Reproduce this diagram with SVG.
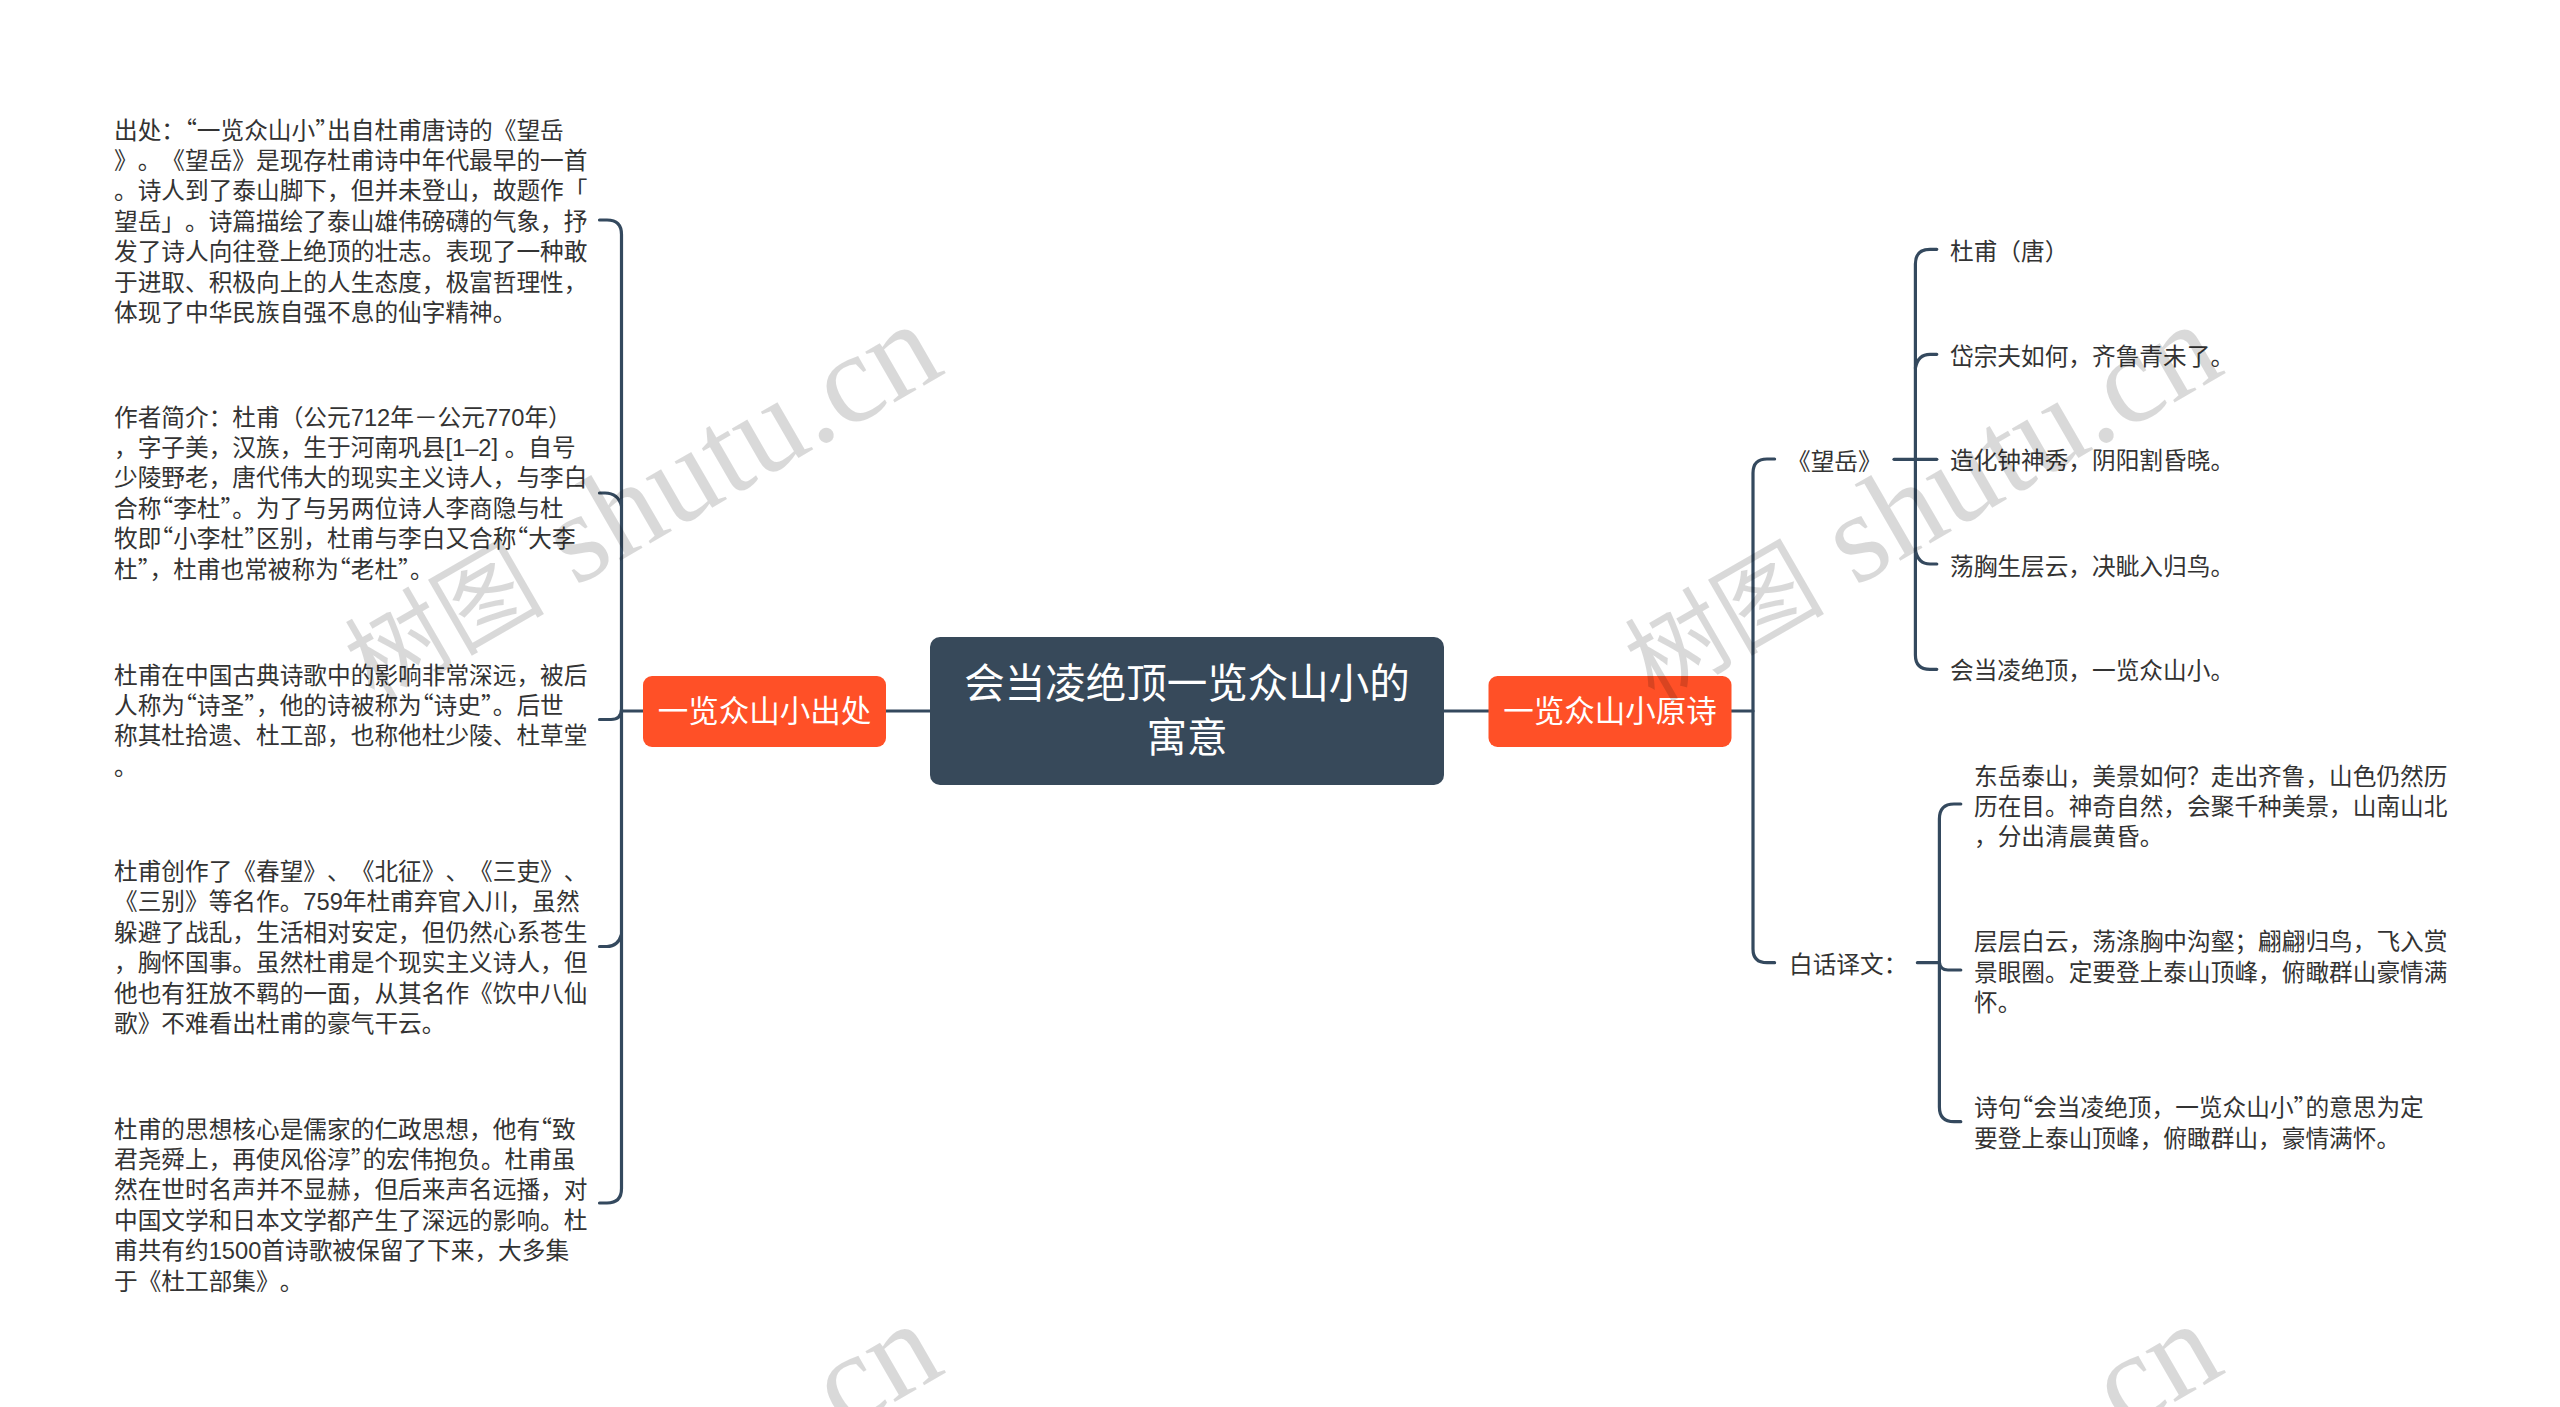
<svg xmlns="http://www.w3.org/2000/svg" width="2560" height="1407" viewBox="0 0 2560 1407">
<style>
text{font-family:"Liberation Sans","Noto Sans CJK SC",sans-serif;text-spacing-trim:space-all;font-kerning:none}
.t{font-size:23.68px;fill:#333}
.o{fill:#ff5027}
.w{font-size:30.5px;fill:#fff;text-anchor:middle}
.c{font-size:40.5px;fill:#fff;text-anchor:middle}
.l path{fill:none;stroke:#34495e;stroke-width:3.2;stroke-linecap:round}
.m{font-family:"Liberation Serif","Noto Sans CJK SC",serif;font-size:128px;fill:#000;fill-opacity:.15}
.h{font-size:100px}
.p{font-family:"Noto Sans CJK SC",sans-serif}
.q{font-family:"Noto Sans CJK SC",sans-serif;letter-spacing:-11.84px}
</style>
<rect width="2560" height="1407" fill="#fff"/>
<g id="connectors" class="l">
<path d="M930 711H886M643 711H621.5"/>
<path d="M599.5 220H607Q621.5 220 621.5 234.5V1188.5Q621.5 1203 607 1203H599.5"/>
<path d="M599.5 493H605Q618 493 621.5 506"/>
<path d="M599.5 719.5H611Q621 719.5 621.5 709.5"/>
<path d="M599.5 946.5H607Q618 946.5 621.5 934.5"/>
<path d="M1444 711H1489M1731 711H1753"/>
<path d="M1774.6 459H1767Q1753 459 1753 473V949Q1753 962.7 1767 962.7H1774.6"/>
<path d="M1894 459.3H1936.8"/>
<path d="M1936.8 249.3H1930Q1915.4 249.3 1915.4 264V655Q1915.4 669.3 1930 669.3H1936.8"/>
<path d="M1936.8 354.3H1930Q1918 354.3 1915.4 368"/>
<path d="M1936.8 564H1930Q1918 564 1915.4 550"/>
<path d="M1917.4 962.7H1939.4"/>
<path d="M1960.8 804H1954Q1939.4 804 1939.4 819V1107Q1939.4 1121.7 1954 1121.7H1960.8"/>
<path d="M1960.8 970H1948Q1940 970 1939.4 962"/>
</g>
<g id="root"><rect x="930" y="637" width="514" height="148" rx="10" fill="#37495a"/>
<text class="c"><tspan x="1187" y="698">会当凌绝顶一览众山小的</tspan><tspan x="1187" y="752">寓意</tspan></text></g>
<g id="left"><rect class="o" x="643" y="676" width="243" height="71" rx="9"/><text class="w" x="764.5" y="722">一览众山小出处</text></g>
<g id="right"><rect class="o" x="1488.5" y="676" width="243" height="71" rx="9"/><text class="w" x="1610" y="722">一览众山小原诗</text></g>
<g id="p1"><text class="t"><tspan x="114" y="138.5">出处：<tspan class="p" dx="-11.84">“</tspan>一览众山小<tspan class="q">”</tspan>出自杜甫唐诗的《望岳</tspan><tspan x="114" y="168.9">》。《望岳》是现存杜甫诗中年代最早的一首</tspan><tspan x="114" y="199.3">。诗人到了泰山脚下，但并未登山，故题作「</tspan><tspan x="114" y="229.7">望岳」。诗篇描绘了泰山雄伟磅礴的气象，抒</tspan><tspan x="114" y="260.1">发了诗人向往登上绝顶的壮志。表现了一种敢</tspan><tspan x="114" y="290.5">于进取、积极向上的人生态度，极富哲理性，</tspan><tspan x="114" y="320.9">体现了中华民族自强不息的仙字精神。</tspan></text></g>
<g id="p2"><text class="t"><tspan x="114" y="425.5">作者简介：杜甫（公元712年－公元770年）</tspan><tspan x="114" y="455.9">，字子美，汉族，生于河南巩县[1–2] 。自号</tspan><tspan x="114" y="486.3">少陵野老，唐代伟大的现实主义诗人，与李白</tspan><tspan x="114" y="516.7">合称<tspan class="p" dx="-11.84">“</tspan>李杜<tspan class="q">”</tspan>。为了与另两位诗人李商隐与杜</tspan><tspan x="114" y="547.1">牧即<tspan class="p" dx="-11.84">“</tspan>小李杜<tspan class="q">”</tspan>区别，杜甫与李白又合称<tspan class="p" dx="-11.84">“</tspan>大李</tspan><tspan x="114" y="577.5">杜<tspan class="q">”</tspan>，杜甫也常被称为<tspan class="p" dx="-11.84">“</tspan>老杜<tspan class="q">”</tspan>。</tspan></text></g>
<g id="p3"><text class="t"><tspan x="114" y="683.5">杜甫在中国古典诗歌中的影响非常深远，被后</tspan><tspan x="114" y="713.9">人称为<tspan class="p" dx="-11.84">“</tspan>诗圣<tspan class="q">”</tspan>，他的诗被称为<tspan class="p" dx="-11.84">“</tspan>诗史<tspan class="q">”</tspan>。后世</tspan><tspan x="114" y="744.3">称其杜拾遗、杜工部，也称他杜少陵、杜草堂</tspan><tspan x="114" y="774.7">。</tspan></text></g>
<g id="p4"><text class="t"><tspan x="114" y="880">杜甫创作了《春望》、《北征》、《三吏》、</tspan><tspan x="114" y="910.4">《三别》等名作。759年杜甫弃官入川，虽然</tspan><tspan x="114" y="940.8">躲避了战乱，生活相对安定，但仍然心系苍生</tspan><tspan x="114" y="971.2">，胸怀国事。虽然杜甫是个现实主义诗人，但</tspan><tspan x="114" y="1001.6">他也有狂放不羁的一面，从其名作《饮中八仙</tspan><tspan x="114" y="1032">歌》不难看出杜甫的豪气干云。</tspan></text></g>
<g id="p5"><text class="t"><tspan x="114" y="1137.5">杜甫的思想核心是儒家的仁政思想，他有<tspan class="p" dx="-11.84">“</tspan>致</tspan><tspan x="114" y="1167.9">君尧舜上，再使风俗淳<tspan class="q">”</tspan>的宏伟抱负。杜甫虽</tspan><tspan x="114" y="1198.3">然在世时名声并不显赫，但后来声名远播，对</tspan><tspan x="114" y="1228.7">中国文学和日本文学都产生了深远的影响。杜</tspan><tspan x="114" y="1259.1">甫共有约1500首诗歌被保留了下来，大多集</tspan><tspan x="114" y="1289.5">于《杜工部集》。</tspan></text></g>
<g id="wangyue"><text class="t" x="1787" y="469.5">《望岳》</text></g>
<g id="l1"><text class="t" x="1950" y="260.2">杜甫（唐）</text></g>
<g id="l2"><text class="t" x="1950" y="364.5">岱宗夫如何，齐鲁青未了。</text></g>
<g id="l3"><text class="t" x="1950" y="469.2">造化钟神秀，阴阳割昏晓。</text></g>
<g id="l4"><text class="t" x="1950" y="574.5">荡胸生层云，决眦入归鸟。</text></g>
<g id="l5"><text class="t" x="1950" y="679.2">会当凌绝顶，一览众山小。</text></g>
<g id="baihua"><text class="t" x="1789" y="972.5">白话译文：</text></g>
<g id="b1"><text class="t"><tspan x="1974" y="784.5">东岳泰山，美景如何？走出齐鲁，山色仍然历</tspan><tspan x="1974" y="814.9">历在目。神奇自然，会聚千种美景，山南山北</tspan><tspan x="1974" y="845.3">，分出清晨黄昏。</tspan></text></g>
<g id="b2"><text class="t"><tspan x="1974" y="950.2">层层白云，荡涤胸中沟壑；翩翩归鸟，飞入赏</tspan><tspan x="1974" y="980.6">景眼圈。定要登上泰山顶峰，俯瞰群山豪情满</tspan><tspan x="1974" y="1011">怀。</tspan></text></g>
<g id="b3"><text class="t"><tspan x="1974" y="1116.2">诗句<tspan class="p" dx="-11.84">“</tspan>会当凌绝顶，一览众山小<tspan class="q">”</tspan>的意思为定</tspan><tspan x="1974" y="1146.6">要登上泰山顶峰，俯瞰群山，豪情满怀。</tspan></text></g>
<g id="watermark">
<text class="m" transform="translate(374 703) rotate(-30)"><tspan class="h">树图</tspan> shutu.cn</text>
<text class="m" transform="translate(1654 703) rotate(-30)"><tspan class="h">树图</tspan> shutu.cn</text>
<text class="m" transform="translate(843 1432) rotate(-30)">cn</text>
<text class="m" transform="translate(2123 1432) rotate(-30)">cn</text>
</g>
</svg>
